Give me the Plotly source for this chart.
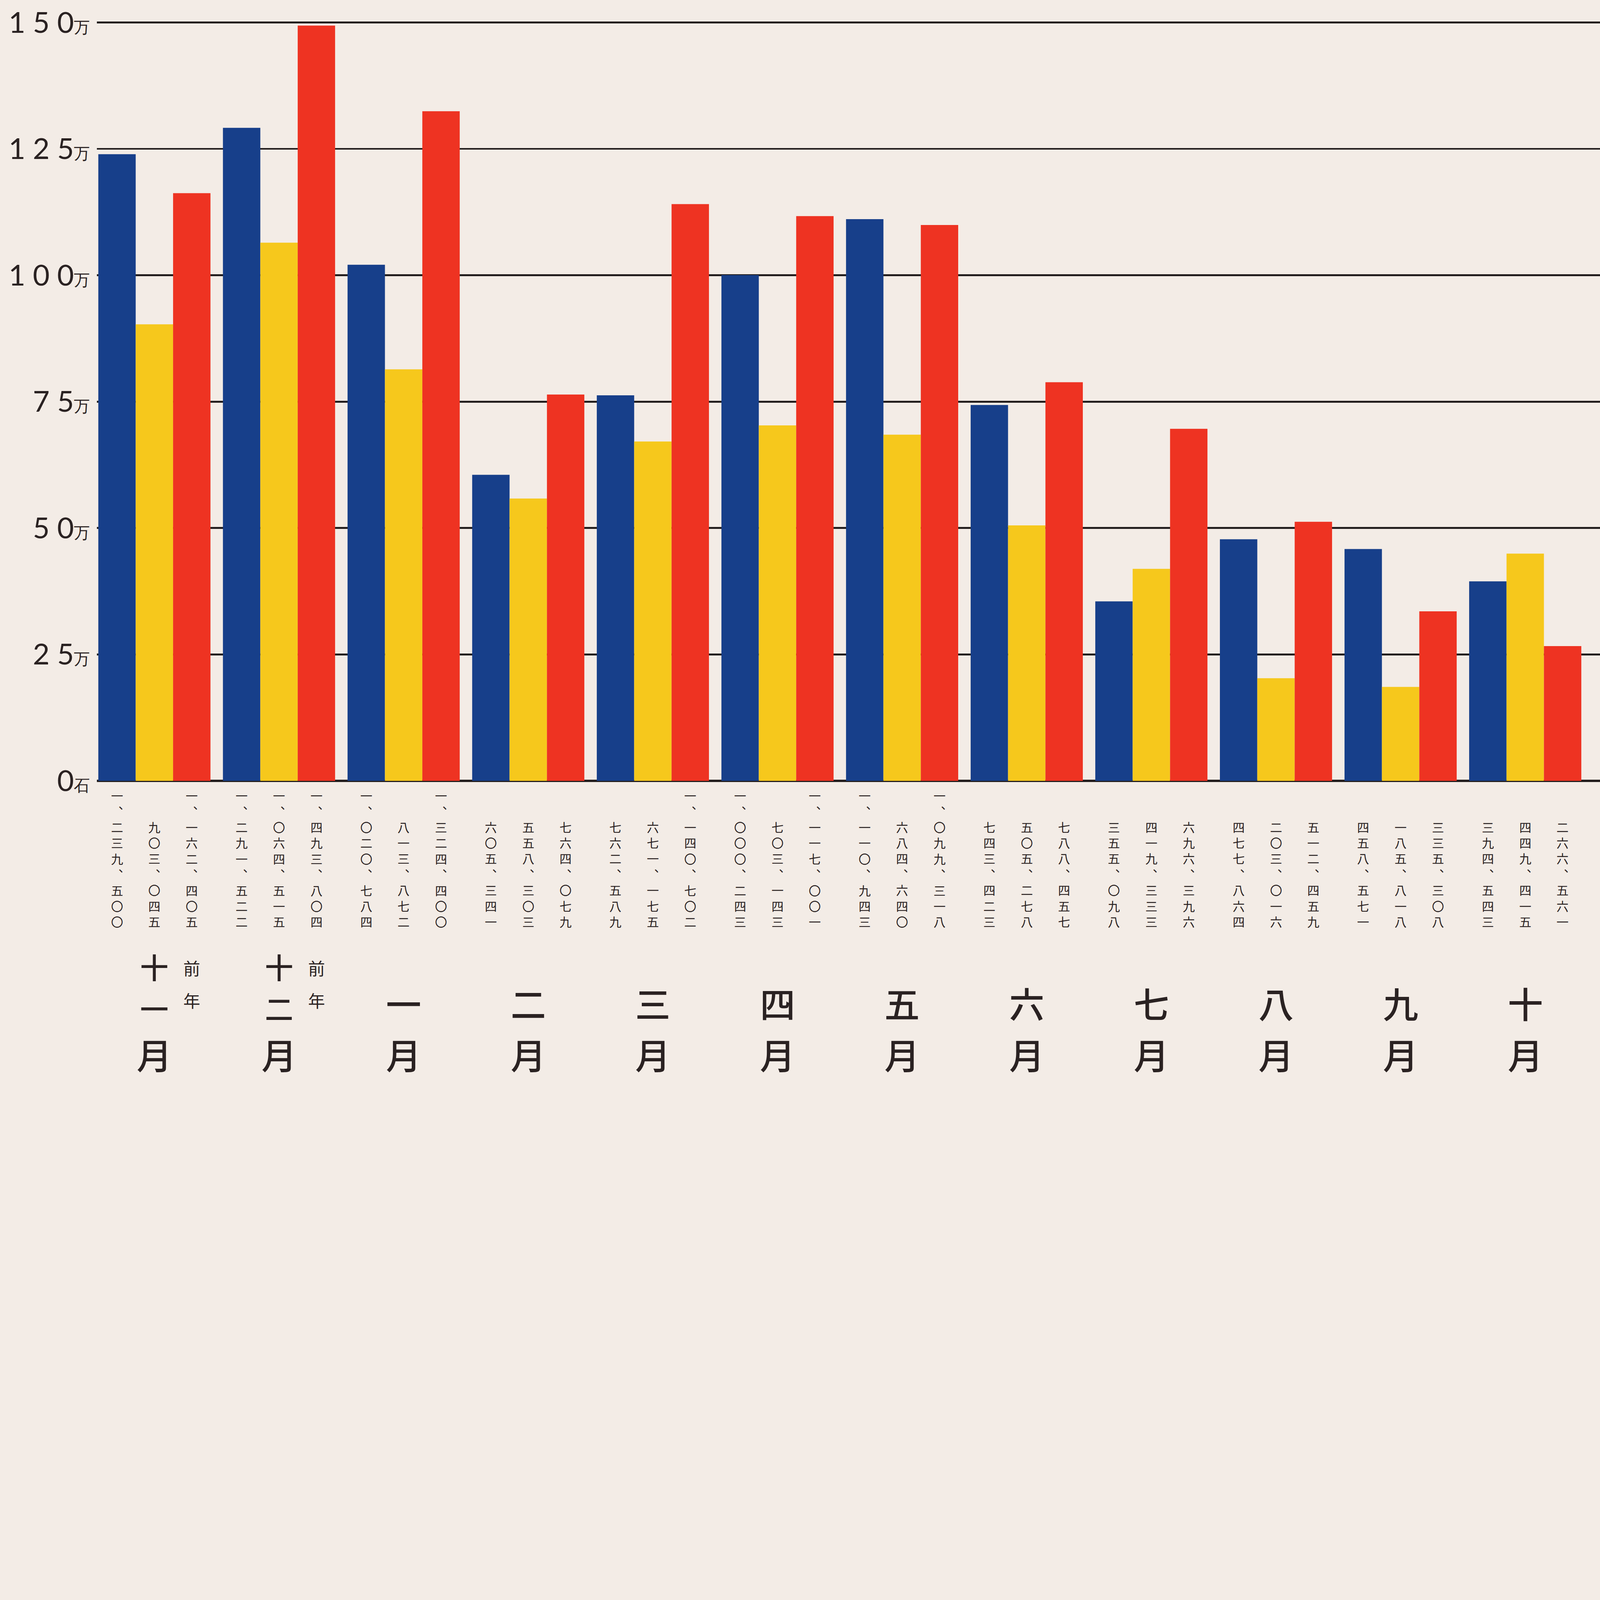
import plotly.graph_objects as go

# ---------------- data ----------------
months = ["十一月", "十二月", "一月", "二月", "三月", "四月",
          "五月", "六月", "七月", "八月", "九月", "十月"]
prev_year = [True, True, False, False, False, False,
             False, False, False, False, False, False]
blue_vals = [1239500, 1291522, 1020784, 605341, 762589, 1000243,
             1110943, 743423, 355098, 477864, 458571, 394543]
yellow_vals = [903045, 1064515, 813872, 558303, 671175, 703143,
               684640, 505278, 419333, 203016, 185818, 449415]
red_vals = [1162405, 1493804, 1324400, 764079, 1140702, 1117001,
            1099318, 788457, 696396, 512459, 335308, 266561]
y_ticks = [0, 25, 50, 75, 100, 125, 150]
y_tick_units = ["石", "万", "万", "万", "万", "万", "万"]
prev_year_note = "前年"

# ---------------- style ----------------
W, H = 6066, 4101
BG = "#f3ece6"
INK = "#2a2222"
COLORS = ["#173f8a", "#f6c81c", "#ee3322"]
FONT_CJK = "Noto Sans CJK JP"
CJK_BOX = 1.45  # line box height of the CJK font, in em

M_L, M_R, M_T, M_B = 368, 0, 66, 1131
Y0, Y1 = -0.5, 151
PLOT_H = H - M_T - M_B
BARGAP = 0.1
NSER = 3
BW = (1 - BARGAP) / NSER


def paper_y(px_from_top):
    return (H - M_B - px_from_top) / PLOT_H


KD = "〇一二三四五六七八九"


def kanji_vertical(v):
    s = f"{v:,}"
    chars = [KD[int(c)] if c.isdigit() else "︑" for c in s]
    return "<br>".join(chars)


fig = go.Figure()
series = [blue_vals, yellow_vals, red_vals]
for k, vals in enumerate(series):
    fig.add_trace(go.Bar(
        x=months,
        y=[v / 10000 for v in vals],
        marker=dict(color=COLORS[k], line=dict(width=0)),
        showlegend=False,
        hoverinfo="skip",
    ))

annotations = []
# vertical numeric labels under every bar
for k, vals in enumerate(series):
    for i, v in enumerate(vals):
        annotations.append(dict(
            x=i + (k - 1) * BW, xref="x",
            y=paper_y(3528), yref="paper",
            yanchor="bottom", xanchor="center",
            text=kanji_vertical(v), showarrow=False,
            font=dict(family=FONT_CJK, size=46, color=INK),
            align="center",
        ))


def glyph(i, ch, yc, size, weight=500, dx=0.0):
    return dict(
        x=i + dx, xref="x", y=paper_y(yc), yref="paper",
        yanchor="middle", xanchor="center", text=ch, showarrow=False,
        font=dict(family=FONT_CJK, size=size, color=INK, weight=weight))


# month labels: stacked glyphs, each its own text, stacked without overlap
MON_SIZE, NUM2_SIZE = 134, 108
MON_Y = 3995
for i, m in enumerate(months):
    num = m[:-1]
    annotations.append(glyph(i, m[-1], MON_Y, MON_SIZE))
    if len(num) == 1:
        annotations.append(glyph(i, num, MON_Y - CJK_BOX * MON_SIZE, MON_SIZE))
    else:
        y_low = MON_Y - CJK_BOX * (MON_SIZE + NUM2_SIZE) / 2
        annotations.append(glyph(i, num[1], y_low, NUM2_SIZE))
        annotations.append(glyph(i, num[0], y_low - CJK_BOX * NUM2_SIZE, NUM2_SIZE))
    if prev_year[i]:
        for j, ch in enumerate(prev_year_note):
            annotations.append(glyph(i, ch, [3668, 3792][j], 64, weight=400, dx=BW))

tick_text = [" ".join(str(t)) + f"<span style='font-size:60px'>{u}</span>"
             for t, u in zip(y_ticks, y_tick_units)]

fig.update_layout(
    width=W, height=H,
    paper_bgcolor=BG, plot_bgcolor=BG,
    margin=dict(l=M_L, r=M_R, t=M_T, b=M_B, pad=0),
    barmode="group", bargap=BARGAP, bargroupgap=0,
    annotations=annotations,
    xaxis=dict(
        type="category", range=[-0.46, 11.6],
        showticklabels=False, showgrid=False, zeroline=False,
        showline=False, ticks="",
    ),
    yaxis=dict(
        range=[Y0, Y1], tickvals=y_ticks, ticktext=tick_text,
        showgrid=True, gridcolor="#231e1e", gridwidth=7,
        zeroline=True, zerolinecolor="#231e1e", zerolinewidth=10,
        showline=False, ticks="",
        tickfont=dict(family="Lato", size=110, color=INK),
        ticklabelstandoff=26,
    ),
)

# scale the fixed-size figure down if the browser window is smaller than it
fit_script = """
(function(){
  var gd = document.getElementById('{plot_id}');
  document.documentElement.style.overflow = 'hidden';
  document.body.style.margin = '0';
  document.body.style.overflow = 'hidden';
  document.body.style.background = '%s';
  function fit(){
    var s = Math.min(1, window.innerWidth / %d, window.innerHeight / %d);
    gd.style.transformOrigin = '0 0';
    gd.style.transform = 'scale(' + s + ')';
  }
  fit();
  window.addEventListener('resize', fit);
})();
""" % (BG, W, H)

fig.write_html("out.html", post_script=fit_script,
               config={"displayModeBar": False})
